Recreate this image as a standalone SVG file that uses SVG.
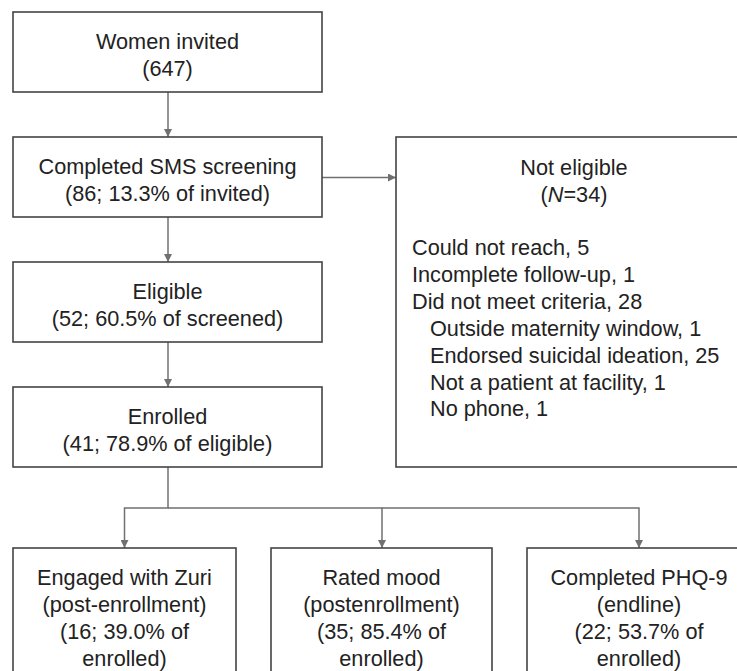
<svg xmlns="http://www.w3.org/2000/svg" width="737" height="671" viewBox="0 0 737 671">
<defs>
<style>
.box{fill:#ffffff;stroke:#444444;stroke-width:1.6}
.t{font-family:"Liberation Sans",Arial,sans-serif;font-size:21.7px;fill:#222222}
.c{text-anchor:middle}
.con{fill:none;stroke:#707070;stroke-width:1.5}
</style>
<marker id="ah" viewBox="0 0 10 10" refX="10" refY="5" markerWidth="8" markerHeight="8" markerUnits="userSpaceOnUse" orient="auto">
<path d="M0,0 L10,5 L0,10 z" fill="#707070"/>
</marker>
</defs>
<rect width="737" height="671" fill="#ffffff"/>
<g id="connectors">
<path class="con" d="M168,92 V137" marker-end="url(#ah)"/>
<path class="con" d="M168,217 V262" marker-end="url(#ah)"/>
<path class="con" d="M168,342 V387" marker-end="url(#ah)"/>
<path class="con" d="M322,177.5 H396" marker-end="url(#ah)"/>
<path class="con" d="M168,467 V508 H124.5 V548" marker-end="url(#ah)"/>
<path class="con" d="M168,508 H382 V548" marker-end="url(#ah)"/>
<path class="con" d="M382,508 H639 V548" marker-end="url(#ah)"/>
</g>
<g id="invited">
<rect class="box" x="13" y="12" width="309" height="80"/>
<text class="t c" x="167.5" y="49">Women invited</text>
<text class="t c" x="167.5" y="76">(647)</text>
</g>
<g id="screening">
<rect class="box" x="13" y="137" width="309" height="80"/>
<text class="t c" x="167.5" y="174">Completed SMS screening</text>
<text class="t c" x="167.5" y="201">(86; 13.3% of invited)</text>
</g>
<g id="eligible">
<rect class="box" x="13" y="262" width="309" height="80"/>
<text class="t c" x="167.5" y="299">Eligible</text>
<text class="t c" x="167.5" y="326">(52; 60.5% of screened)</text>
</g>
<g id="enrolled">
<rect class="box" x="13" y="387" width="309" height="80"/>
<text class="t c" x="167.5" y="424">Enrolled</text>
<text class="t c" x="167.5" y="451">(41; 78.9% of eligible)</text>
</g>
<g id="not-eligible">
<rect class="box" x="396" y="137" width="356" height="330"/>
<text class="t c" x="574" y="175">Not eligible</text>
<text class="t c" x="574" y="202">(<tspan font-style="italic">N</tspan>=34)</text>
<text class="t" x="412" y="255">Could not reach, 5</text>
<text class="t" x="412" y="282">Incomplete follow-up, 1</text>
<text class="t" x="412" y="309">Did not meet criteria, 28</text>
<text class="t" x="430" y="336">Outside maternity window, 1</text>
<text class="t" x="430" y="363">Endorsed suicidal ideation, 25</text>
<text class="t" x="430" y="390">Not a patient at facility, 1</text>
<text class="t" x="430" y="416">No phone, 1</text>
</g>
<g id="engaged">
<rect class="box" x="13" y="548" width="223" height="140"/>
<text class="t c" x="124.5" y="585">Engaged with Zuri</text>
<text class="t c" x="124.5" y="612">(post-enrollment)</text>
<text class="t c" x="124.5" y="639">(16; 39.0% of</text>
<text class="t c" x="124.5" y="666">enrolled)</text>
</g>
<g id="rated-mood">
<rect class="box" x="271" y="548" width="221" height="140"/>
<text class="t c" x="381.5" y="585">Rated mood</text>
<text class="t c" x="381.5" y="612">(postenrollment)</text>
<text class="t c" x="381.5" y="639">(35; 85.4% of</text>
<text class="t c" x="381.5" y="666">enrolled)</text>
</g>
<g id="phq9">
<rect class="box" x="527" y="548" width="224" height="140"/>
<text class="t c" x="639" y="585">Completed PHQ-9</text>
<text class="t c" x="639" y="612">(endline)</text>
<text class="t c" x="639" y="639">(22; 53.7% of</text>
<text class="t c" x="639" y="666">enrolled)</text>
</g>
</svg>
